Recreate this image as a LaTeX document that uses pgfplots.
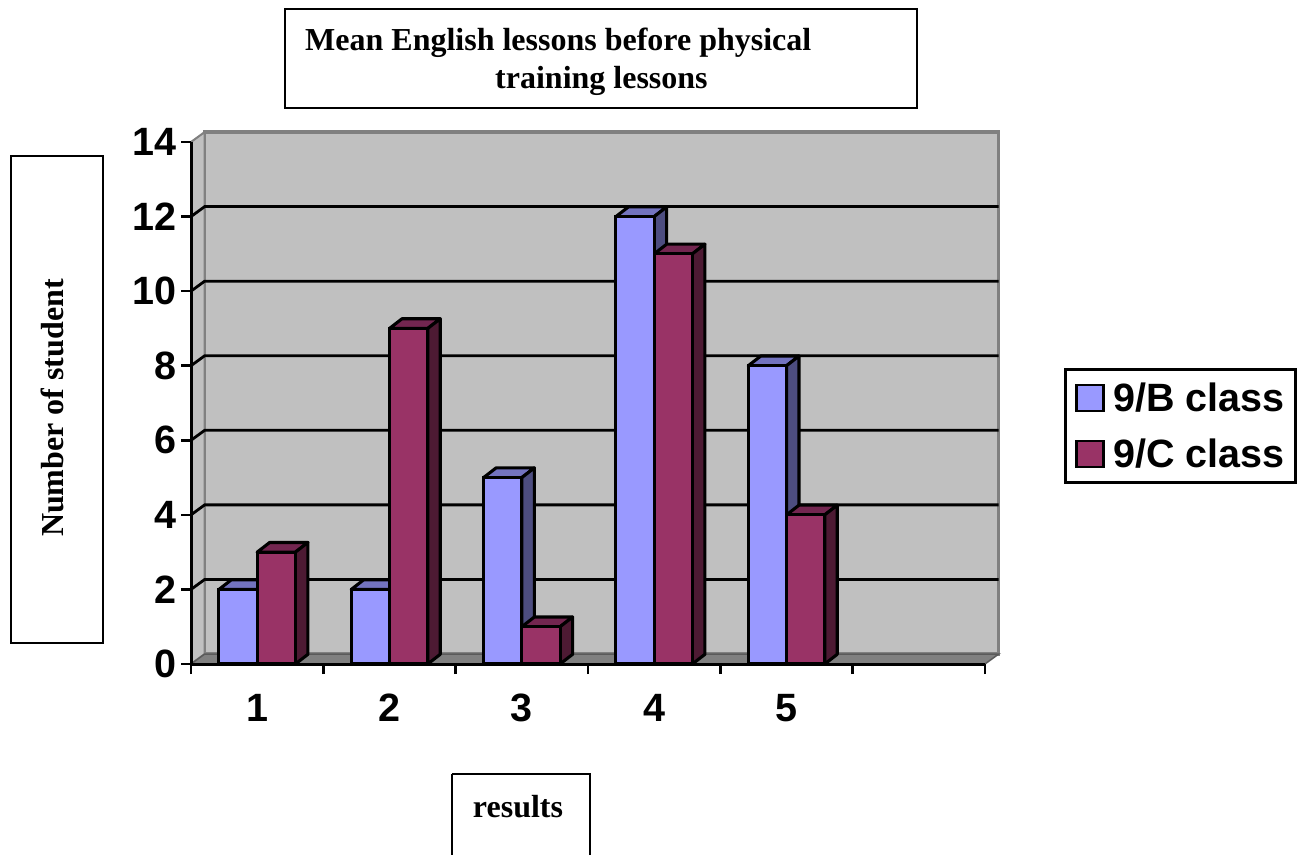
\documentclass[border=0pt]{standalone}
\usepackage{pgfplots}
\usepackage{fontspec}
\setmainfont{Liberation Sans}
\newfontfamily\serifb{Liberation Serif}[BoldFont={Liberation Serif Bold}]
\pgfplotsset{compat=1.18}
\definecolor{bluef}{HTML}{9999FF}
\definecolor{bluet}{HTML}{7373BF}
\definecolor{blues}{HTML}{4D4D80}
\definecolor{redf}{HTML}{993366}
\definecolor{redt}{HTML}{732650}
\definecolor{reds}{HTML}{4D1A33}
\definecolor{wallc}{HTML}{C0C0C0}
\definecolor{floorc}{HTML}{808080}
\newcommand\barfaces[4]{%
  \addplot[fill=#3,draw=black,line width=3.1pt,line join=round,forget plot] coordinates
    {(#1,#2) ({#1+0.0945},{#2+0.26}) ({#1+0.289+0.0945},{#2+0.26}) ({#1+0.289},#2)} --cycle;
  \addplot[fill=#4,draw=black,line width=3.1pt,line join=round,forget plot] coordinates
    {({#1+0.289},#2) ({#1+0.289+0.0945},{#2+0.26}) ({#1+0.289+0.0945},0.26) ({#1+0.289},0)} --cycle;
}
\newcommand\gridl[1]{%
  \addplot[black,line width=2.8pt,forget plot] coordinates
    {(0,#1) (0.1035,{#1+0.268}) (6.1035,{#1+0.268})};
}
\newcommand\bigfont{\bfseries\fontsize{39.5}{39.5}\selectfont}
\newcommand\serfont{\serifb\bfseries\fontsize{32}{36}\selectfont}
\begin{document}
\begin{tikzpicture}[x=1pt,y=-1pt]
\path[use as bounding box] (0,0) rectangle (1298,855);
\begin{axis}[
  at={(191pt,-664pt)}, anchor=origin,
  scale only axis, width=794pt, height=522pt,
  xmin=0, xmax=6, ymin=0, ymax=14,
  clip=false, axis on top=true,
  axis x line=bottom, axis y line=left,
  axis line style={-,black,line width=3pt},
  tick align=outside,
  major tick length=10pt, minor tick length=10pt,
  xtick={0.5,1.5,2.5,3.5,4.5}, xticklabels={1,2,3,4,5},
  minor xtick={0,1,2,3,4,5,6},
  ytick={0,2,...,14},
  xtick style={draw=none},
  minor x tick style={black,line width=2.6pt,draw=black},
  ytick style={black,line width=2.6pt},
  /pgf/number format/assume math mode=true,
  tick label style={font=\bigfont},
  x tick label style={yshift=-20pt,inner sep=0pt},
  y tick label style={inner sep=0pt,xshift=-4pt},
  legend style={at={(1.0995,0.567)},anchor=north west,draw=black,line width=2.6pt,
    font=\bigfont,inner xsep=10pt,inner ysep=12.5pt,
    row sep=24pt,nodes={inner sep=1pt}},
  legend cell align=left,
  legend image code/.code={\draw[#1,line width=2.6pt] (0pt,-13pt) rectangle (27pt,13pt);\path (34pt,0pt);},
]
% walls and floor
\addplot[fill=wallc,draw=floorc,line width=3.2pt,forget plot] coordinates
  {(0.1035,0.268) (0.1035,14.268) (6.1035,14.268) (6.1035,0.268)} --cycle;
\addplot[fill=wallc,draw=floorc,line width=2pt,forget plot] coordinates
  {(0,0) (0,14) (0.1035,14.268) (0.1035,0.268)} --cycle;
\addplot[fill=floorc,draw=floorc!70!black,line width=1.5pt,forget plot] coordinates
  {(0,0) (0.1035,0.268) (6.1035,0.268) (6,0)} --cycle;
\gridl{2}\gridl{4}\gridl{6}\gridl{8}\gridl{10}\gridl{12}
% top and side faces
\barfaces{0.211}{2}{bluet}{blues}
\barfaces{1.211}{2}{bluet}{blues}
\barfaces{2.211}{5}{bluet}{blues}
\barfaces{3.211}{12}{bluet}{blues}
\barfaces{4.211}{8}{bluet}{blues}
\barfaces{0.5}{3}{redt}{reds}
\barfaces{1.5}{9}{redt}{reds}
\barfaces{2.5}{1}{redt}{reds}
\barfaces{3.5}{11}{redt}{reds}
\barfaces{4.5}{4}{redt}{reds}
% front faces
\addplot[ybar,bar width=0.289,bar shift=-0.1445,fill=bluef,draw=black,line width=3.1pt]
  coordinates {(0.5,2) (1.5,2) (2.5,5) (3.5,12) (4.5,8)};
\addlegendentry{9/B class}
\addplot[ybar,bar width=0.289,bar shift=0.1445,fill=redf,draw=black,line width=3.1pt]
  coordinates {(0.5,3) (1.5,9) (2.5,1) (3.5,11) (4.5,4)};
\addlegendentry{9/C class}
\end{axis}
% text boxes
\draw[black,line width=1.5pt] (285,9) rectangle (917,108);
\node[anchor=base west,inner sep=0pt,font=\serfont] at (305,50) {Mean English lessons before physical};
\node[anchor=base west,inner sep=0pt,font=\serfont] at (495,88) {training lessons};
\draw[black,line width=1.5pt] (11,156) rectangle (103,643);
\node[rotate=90,inner sep=0pt,font=\serfont] at (52,408) {Number of student};
\draw[black,line width=1.5pt] (452,774) -- (452,855) (590,855) -- (590,774) -- (452,774);
\node[inner sep=0pt,font=\serfont] at (518,807) {results};
\end{tikzpicture}
\end{document}
